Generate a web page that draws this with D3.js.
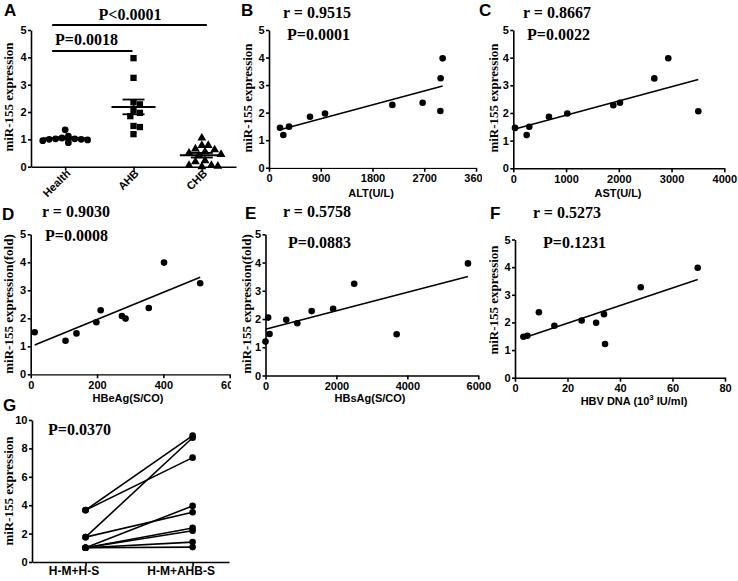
<!DOCTYPE html>
<html><head><meta charset="utf-8">
<script src="https://cdn.jsdelivr.net/npm/d3@7"></script>
<style>body{margin:0;background:#fff}</style>
</head><body>
<svg id="c" width="738" height="581"></svg>
<script>
// ---------------- DATA ----------------
const groupNames = ["Health", "AHB", "CHB"];
const healthVals = [1.35, 1.12, 1.05, 1.02, 1.02, 1.0, 1.0, 0.98, 0.95, 0.88];
const ahbVals = [1.19, 1.45, 1.49, 1.85, 1.97, 2.06, 2.28, 2.36, 3.25, 3.97];
const chbVals = [1.05, 0.78, 0.78, 0.65, 0.62, 0.55, 0.5, 0.45, 0.4, 0.22, 0.18, 0.05, 0.02, 0.05, 0.0];
const yTicks5 = [0, 1, 2, 3, 4, 5];

const altX = [191, 249, 348, 713, 974, 2145, 2672, 2980, 2985, 3020];
const altY = [1.45, 1.19, 1.49, 1.85, 1.97, 2.28, 2.36, 2.06, 3.25, 3.97];
const altTicks = [0, 900, 1800, 2700, 3600];

const astX = [32, 253, 303, 676, 1024, 1896, 2022, 2673, 2938, 3507];
const astY = [1.46, 1.2, 1.5, 1.86, 1.98, 2.28, 2.37, 3.25, 3.98, 2.06];
const astTicks = [0, 1000, 2000, 3000, 4000];

const heagX = [12, 105, 138, 198, 211, 275, 286, 356, 402, 511];
const heagY = [1.5, 1.2, 1.46, 1.86, 2.29, 2.08, 1.99, 2.37, 3.99, 3.25];
const heagTicks = [0, 200, 400, 600];

const hsagX = [0, 75, 113, 585, 896, 1302, 1906, 2500, 3698, 5708];
const hsagY = [1.2, 2.05, 1.47, 1.97, 1.85, 2.28, 2.36, 3.25, 1.46, 3.97];
const hsagTicks = [0, 2000, 4000, 6000];

const dnaX = [3.2, 4.7, 9.1, 15.0, 25.4, 30.9, 33.9, 34.3, 47.9, 69.6];
const dnaY = [1.48, 1.52, 2.37, 1.88, 2.07, 1.99, 2.30, 1.22, 3.27, 3.98];
const dnaTicks = [0, 20, 40, 60, 80];

const gCats = ["H-M+H-S", "H-M+AHB-S"];
const gBefore = [3.65, 3.65, 1.75, 1.75, 1.0, 1.0, 1.0, 1.0, 1.0];
const gAfter = [8.9, 7.35, 8.75, 3.5, 3.95, 2.4, 2.2, 1.4, 1.05];
const gTicks = [0, 2, 4, 6, 8, 10];

// ---------------- DRAWING ----------------
const SERIF = "'Liberation Serif','Times New Roman',serif";
const SANS = "'Liberation Sans',Arial,sans-serif";
const fmtInt = d3.format("d");
const svg = d3.select("#c");
svg.append("rect").attr("width", 738).attr("height", 581).attr("fill", "#fff");
const defs = svg.append("defs");

function styleAxis(g) {
  g.select(".domain").attr("stroke", "#000").attr("stroke-width", 1.6);
  g.selectAll(".tick line").attr("stroke", "#000").attr("stroke-width", 1.6);
  g.selectAll(".tick text").attr("fill", "#000")
    .style("font-family", SANS).style("font-weight", "bold").style("font-size", "11px");
}
function leftAxis(y, ticks) {
  return d3.axisLeft(y).tickValues(ticks).tickSize(3).tickPadding(1.5).tickSizeOuter(0).tickFormat(fmtInt);
}
function serifText(x, y, t, size, anchor) {
  return svg.append("text").attr("x", x).attr("y", y).text(t)
    .attr("text-anchor", anchor || "start")
    .style("font-family", SERIF).style("font-weight", "bold").style("font-size", (size || 16) + "px");
}
let clipId = 0;
function clipRect(x0, y0, x1, y1) {
  const id = "clip" + (clipId++);
  defs.append("clipPath").attr("id", id).append("rect")
    .attr("x", x0).attr("y", y0).attr("width", x1 - x0).attr("height", y1 - y0);
  return `url(#${id})`;
}
function yLabel(x, cy, t, clipX) {
  const g = svg.append("g");
  if (clipX) g.attr("clip-path", clipRect(clipX, 0, 738, 581));
  return g.append("text").attr("transform", `translate(${x},${cy}) rotate(-90)`)
    .attr("text-anchor", "middle").text(t)
    .style("font-family", SERIF).style("font-weight", "bold").style("font-size", "13px");
}
function sansText(x, y, t, size) {
  return svg.append("text").attr("x", x).attr("y", y).attr("text-anchor", "middle").text(t)
    .style("font-family", SANS).style("font-weight", "bold").style("font-size", (size || 11) + "px");
}
function letter(x, y, t) {
  svg.append("text").attr("x", x).attr("y", y).text(t)
    .style("font-family", SANS).style("font-weight", "bold").style("font-size", "17px");
}

// ---- Panel A ----
(function () {
  const y = d3.scaleLinear().domain([0, 5]).range([166.7, 30]);
  const x = d3.scalePoint().domain(groupNames).range([31, 236]).padding(0.5);
  const ga = svg.append("g").attr("transform", "translate(31,0)").call(leftAxis(y, yTicks5));
  styleAxis(ga);
  const gx = svg.append("g").attr("transform", "translate(0,166.7)")
    .call(d3.axisBottom(x).tickSize(4).tickSizeOuter(0).tickFormat(""));
  styleAxis(gx);
  groupNames.forEach(n => {
    svg.append("text").attr("transform", `translate(${x(n) + 6},174) rotate(-45)`)
      .attr("text-anchor", "end").text(n)
      .style("font-family", SANS).style("font-weight", "bold").style("font-size", "11px");
  });
  function swarm(vals, cx, d) {
    const pts = vals.map(v => ({ v, y: y(v) })).sort((a, b) => a.y - b.y);
    const placed = [];
    for (const p of pts) {
      const offs = [0];
      for (let k = 1; k < 30; k++) offs.push(k * d / 2, -k * d / 2);
      for (const o of offs) {
        const xx = cx + o;
        if (placed.every(q => (q.x - xx) ** 2 + (q.y - p.y) ** 2 >= d * d)) { p.x = xx; break; }
      }
      placed.push(p);
    }
    return placed;
  }
  const groups = [
    { name: "Health", vals: healthVals, sym: d3.symbolCircle, size: 36 },
    { name: "AHB", vals: ahbVals, sym: d3.symbolSquare, size: 40 },
    { name: "CHB", vals: chbVals, sym: d3.symbolTriangle, size: 34 }
  ];
  groups.forEach(gr => {
    const cx = x(gr.name);
    const pts = swarm(gr.vals, cx, 6.4);
    svg.append("g").selectAll("path").data(pts).join("path")
      .attr("transform", d => `translate(${d.x},${d.y})`)
      .attr("d", d3.symbol().type(gr.sym).size(gr.size)).attr("fill", "#000");
    const m = d3.mean(gr.vals), sem = d3.deviation(gr.vals) / Math.sqrt(gr.vals.length);
    const line = (x1, y1, x2, y2, w) => svg.append("line").attr("x1", x1).attr("y1", y1).attr("x2", x2).attr("y2", y2)
      .attr("stroke", "#000").attr("stroke-width", w);
    line(cx - 22, y(m), cx + 22, y(m), 2);
    line(cx, y(m - sem), cx, y(m + sem), 1.8);
    line(cx - 11, y(m + sem), cx + 11, y(m + sem), 1.8);
    line(cx - 11, y(m - sem), cx + 11, y(m - sem), 1.8);
  });
  // significance bars
  svg.append("line").attr("x1", x("Health") - 13).attr("x2", x("CHB") + 5).attr("y1", 25).attr("y2", 25)
    .attr("stroke", "#000").attr("stroke-width", 1.8);
  svg.append("line").attr("x1", x("Health") - 13).attr("x2", x("AHB") - 1).attr("y1", 51).attr("y2", 51)
    .attr("stroke", "#000").attr("stroke-width", 1.8);
  serifText(130, 20, "P<0.0001", 16, "middle");
  serifText(55, 45, "P=0.0018", 16, "start");
  yLabel(13, 97, "miR-155 expression");
  letter(4, 16, "A");
})();

// ---- Generic scatter panel with regression ----
function scatterPanel(c) {
  const x = d3.scaleLinear().domain([c.xTicks[0], c.xTicks[c.xTicks.length - 1]]).range(c.xr);
  const y = d3.scaleLinear().domain([0, 5]).range(c.yr);
  const ga = svg.append("g").attr("transform", `translate(${c.xr[0]},0)`).call(leftAxis(y, yTicks5));
  styleAxis(ga);
  const gx = svg.append("g").attr("transform", `translate(0,${c.yr[0]})`)
    .call(d3.axisBottom(x).tickValues(c.xTicks).tickSize(4).tickSizeOuter(0).tickFormat(fmtInt));
  styleAxis(gx);
  if (c.clipX) gx.attr("clip-path", clipRect(0, 0, c.clipX, 581));
  // regression
  const mx = d3.mean(c.xs), my = d3.mean(c.ys);
  let sxy = 0, sxx = 0;
  c.xs.forEach((v, i) => { sxy += (v - mx) * (c.ys[i] - my); sxx += (v - mx) ** 2; });
  const b = sxy / sxx, a = my - b * mx;
  const [x0, x1] = d3.extent(c.xs);
  svg.append("line").attr("x1", x(x0)).attr("y1", y(a + b * x0)).attr("x2", x(x1)).attr("y2", y(a + b * x1))
    .attr("stroke", "#000").attr("stroke-width", 1.6);
  svg.append("g").selectAll("circle").data(c.xs.map((v, i) => [v, c.ys[i]])).join("circle")
    .attr("cx", d => x(d[0])).attr("cy", d => y(d[1])).attr("r", 3.3).attr("fill", "#000");
  serifText(c.rPos[0], c.rPos[1], c.rText);
  serifText(c.pPos[0], c.pPos[1], c.pText);
  yLabel(c.yl[0], c.yl[1], c.yTitle, c.ylClip);
  const t = sansText(c.xt[0], c.xt[1], "");
  if (c.sup) {
    t.append("tspan").text(c.xTitle[0]);
    t.append("tspan").attr("dy", -5).style("font-size", "8px").text(c.xTitle[1]);
    t.append("tspan").attr("dy", 5).text(c.xTitle[2]);
  } else t.text(c.xTitle);
  letter(c.letter[0], c.letter[1], c.letter[2]);
}

scatterPanel({ xs: altX, ys: altY, xTicks: altTicks, xr: [269, 476], yr: [167.7, 30], clipX: 482,
  xTitle: "ALT(U/L)", xt: [371, 197], yTitle: "miR-155 expression", yl: [252, 98],
  rText: "r = 0.9515", rPos: [283, 18], pText: "P=0.0001", pPos: [287, 40], letter: [241, 16, "B"] });
scatterPanel({ xs: astX, ys: astY, xTicks: astTicks, xr: [513.3, 724.3], yr: [168.3, 30],
  xTitle: "AST(U/L)", xt: [618, 197], yTitle: "miR-155 expression", yl: [498, 98], ylClip: 489,
  rText: "r = 0.8667", rPos: [523, 18], pText: "P=0.0022", pPos: [527, 40], letter: [479, 16, "C"] });
scatterPanel({ xs: heagX, ys: heagY, xTicks: heagTicks, xr: [30.7, 229.7], yr: [374.3, 234.3], clipX: 231,
  xTitle: "HBeAg(S/CO)", xt: [128, 402], yTitle: "miR-155 expression(fold)", yl: [13, 304],
  rText: "r = 0.9030", rPos: [42, 217], pText: "P=0.0008", pPos: [45, 241], letter: [2, 220, "D"] });
scatterPanel({ xs: hsagX, ys: hsagY, xTicks: hsagTicks, xr: [265.5, 478.3], yr: [375.5, 234.3],
  xTitle: "HBsAg(S/CO)", xt: [370, 402], yTitle: "miR-155 expression(fold)", yl: [251, 304],
  rText: "r = 0.5758", rPos: [283, 217], pText: "P=0.0883", pPos: [288, 248], letter: [245, 219, "E"] });
scatterPanel({ xs: dnaX, ys: dnaY, xTicks: dnaTicks, xr: [515, 725], yr: [377.7, 239.5],
  xTitle: ["HBV DNA (10", "3", " IU/ml)"], sup: true, xt: [634, 405], yTitle: "miR-155 expression", yl: [498, 300], ylClip: 489,
  rText: "r = 0.5273", rPos: [533, 218], pText: "P=0.1231", pPos: [543, 248], letter: [490, 219, "F"] });

// ---- Panel G ----
(function () {
  const y = d3.scaleLinear().domain([0, 10]).range([562, 420]);
  const x = d3.scaleLinear().domain([-0.5, 1.34]).range([32, 229]);
  const ga = svg.append("g").attr("transform", "translate(32,0)").call(leftAxis(y, gTicks));
  styleAxis(ga);
  const gx = svg.append("g").attr("transform", "translate(0,562)")
    .call(d3.axisBottom(x).tickValues([0, 1]).tickSize(4).tickSizeOuter(0).tickFormat(i => gCats[i]));
  styleAxis(gx);
  gx.selectAll(".tick text").attr("y", 4).attr("dx", -12).style("font-size", "12px");
  const pairs = gBefore.map((v, i) => [v, gAfter[i]]);
  svg.append("g").selectAll("line").data(pairs).join("line")
    .attr("x1", x(0)).attr("x2", x(1)).attr("y1", d => y(d[0])).attr("y2", d => y(d[1]))
    .attr("stroke", "#000").attr("stroke-width", 1.6);
  const pts = pairs.flatMap(d => [[0, d[0]], [1, d[1]]]);
  svg.append("g").selectAll("circle").data(pts).join("circle")
    .attr("cx", d => x(d[0])).attr("cy", d => y(d[1])).attr("r", 3.3).attr("fill", "#000");
  serifText(48, 435, "P=0.0370");
  yLabel(13, 491, "miR-155 expression");
  letter(3, 411, "G");
})();
</script>
</body></html>
